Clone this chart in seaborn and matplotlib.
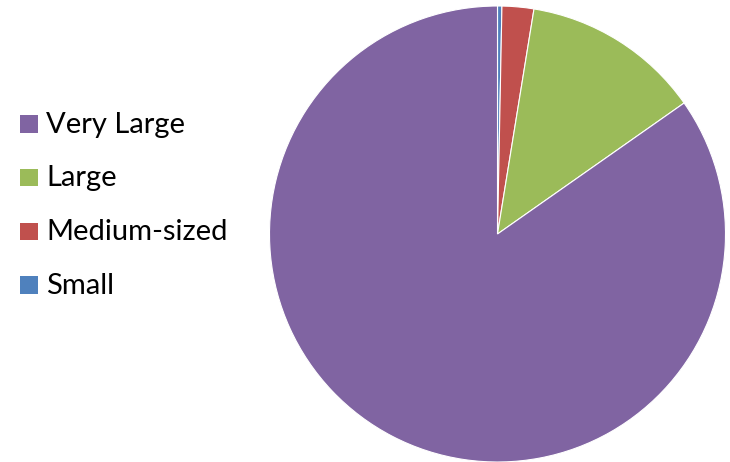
import matplotlib
matplotlib.use("Agg")
import matplotlib.pyplot as plt
import seaborn as sns
from matplotlib.patches import Rectangle

sns.set_theme(style="white")
plt.rcParams['font.family'] = ['Lato', 'DejaVu Sans']

# Data (clockwise from 12 o'clock)
categories = ["Small", "Medium-sized", "Large", "Very Large"]
values = [0.31, 2.25, 12.7, 84.74]
colors = ["#4F81BD", "#C0504D", "#9BBB59", "#8064A2"]
legend_order = ["Very Large", "Large", "Medium-sized", "Small"]

W, H = 730, 462
fig = plt.figure(figsize=(W / 100, H / 100), dpi=100)
fig.patch.set_facecolor("white")

cx, cy, r = 497.5, 234, 228
ax = fig.add_axes([(cx - r) / W, (H - cy - r) / H, 2 * r / W, 2 * r / H])
ax.pie(values, colors=colors, startangle=90, counterclock=False, radius=1,
       wedgeprops=dict(edgecolor="white", linewidth=0.8))
ax.set_xlim(-1, 1)
ax.set_ylim(-1, 1)
ax.set_aspect("equal")
ax.axis("off")

# Legend (drawn in figure pixel space)
cmap = dict(zip(categories, colors))
row_top = 115.0
pitch = 53.8
sq = 17.5
for i, lab in enumerate(legend_order):
    top = row_top + i * pitch
    fig.add_artist(Rectangle((20 / W, 1 - (top + sq) / H), sq / W, sq / H,
                             transform=fig.transFigure, facecolor=cmap[lab],
                             edgecolor="none"))
    fig.text(46 / W, 1 - (top + sq) / H, lab, fontsize=21, color="black",
             ha="left", va="baseline")

fig.savefig("out.png", dpi=100)
